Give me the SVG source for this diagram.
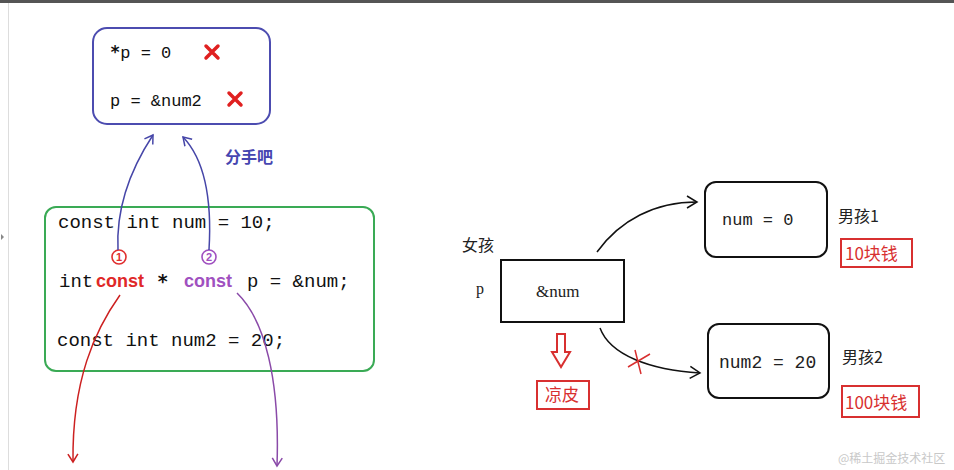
<svg xmlns="http://www.w3.org/2000/svg" width="954" height="470" viewBox="0 0 954 470">
<defs>
<style>
.code{font-family:"Liberation Mono","DejaVu Sans Mono",monospace;font-size:19px;fill:#111}
.small{font-family:"Liberation Mono",monospace;font-size:17px;fill:#111}
.star{font-family:"DejaVu Sans Mono",monospace;font-weight:bold}
.cjk{font-family:"Noto Sans CJK SC","Noto Sans",sans-serif;font-size:16px;fill:#222}
.kw{font-family:"Liberation Sans","Noto Sans",sans-serif;font-weight:bold;font-size:18px}
.redx{stroke:#e02020;stroke-width:3.5;stroke-linecap:round}
.box{fill:#fff;stroke:#111;stroke-width:2}
.tag{fill:#fff;stroke:#d83030;stroke-width:2}
.tagt{font-family:"Noto Sans CJK SC",sans-serif;font-size:17px;fill:#d83030}
</style>
<marker id="ab" markerWidth="12" markerHeight="12" refX="9" refY="6" orient="auto" markerUnits="userSpaceOnUse"><path d="M1,1 L9,6 L1,11" fill="none" stroke="#4646a8" stroke-width="1.5"/></marker>
<marker id="ak" markerWidth="14" markerHeight="14" refX="11" refY="7" orient="auto" markerUnits="userSpaceOnUse"><path d="M1,1 L11,7 L1,13" fill="none" stroke="#111" stroke-width="1.5"/></marker>
<marker id="ar" markerWidth="12" markerHeight="12" refX="9" refY="6" orient="auto" markerUnits="userSpaceOnUse"><path d="M1,1 L9,6 L1,11" fill="none" stroke="#cc2020" stroke-width="1.5"/></marker>
<marker id="ap" markerWidth="12" markerHeight="12" refX="9" refY="6" orient="auto" markerUnits="userSpaceOnUse"><path d="M1,1 L9,6 L1,11" fill="none" stroke="#8a4aa8" stroke-width="1.5"/></marker>
</defs>
<rect width="954" height="470" fill="#fff"/>
<rect x="0" y="0" width="954" height="3" fill="#555"/>
<line x1="8.5" y1="3" x2="8.5" y2="470" stroke="#ddd" stroke-width="1"/>
<path d="M1,234 L4,237 L1,240 Z" fill="#888"/>

<g id="forbidden">
<rect x="93" y="28" width="177" height="96" rx="14" fill="#fff" stroke="#4c4cb0" stroke-width="2"/>
<text class="small" x="110" y="58"><tspan class="star">*</tspan>p = 0</text>
<text class="small" x="110" y="106">p = &amp;num2</text>
<path class="redx" d="M206,46 L218,58 M218,46 L206,58"/>
<path class="redx" d="M229,93 L241,105 M241,93 L229,105"/>
</g>

<g id="breakup-label">
<text x="225" y="163" font-family="Noto Sans CJK SC,sans-serif" font-weight="bold" font-size="16" fill="#4646b0">分手吧</text>
</g>

<g id="code">
<rect x="45" y="207" width="329" height="164" rx="11" fill="none" stroke="#3aaa55" stroke-width="2"/>
<text class="code" x="58" y="228">const int num = 10;</text>
<text class="code" x="59" y="287">int</text>
<text class="kw" x="96" y="287" fill="#e02828">const</text>
<text class="code star" x="157" y="288" font-size="20">*</text>
<text class="kw" x="184" y="287" fill="#a050c0">const</text>
<text class="code" x="247" y="287">p = &amp;num;</text>
<text class="code" x="57" y="346">const int num2 = 20;</text>
<circle cx="119" cy="257" r="7" fill="none" stroke="#e03030" stroke-width="1.6"/>
<text x="119" y="261" text-anchor="middle" font-family="Liberation Sans,sans-serif" font-weight="bold" font-size="11" fill="#e03030">1</text>
<circle cx="209" cy="257" r="7" fill="none" stroke="#a050c0" stroke-width="1.6"/>
<text x="209" y="261" text-anchor="middle" font-family="Liberation Sans,sans-serif" font-weight="bold" font-size="11" fill="#a050c0">2</text>
</g>

<g id="girl">
<text class="cjk" x="462" y="251">女孩</text>
<text x="476" y="294" font-family="Liberation Serif,serif" font-size="16" fill="#222">p</text>
<rect class="box" x="501" y="260" width="123" height="62"/>
<text x="536" y="297" font-family="Liberation Serif,serif" font-size="17" fill="#222">&amp;num</text>
</g>

<g id="liangpi">
<path d="M557,334 L565,334 L565,352 L570,352 L561,367 L552,352 L557,352 Z" fill="#fff" stroke="#d83030" stroke-width="2"/>
<rect class="tag" x="537" y="381" width="52" height="28"/>
<text class="tagt" x="545" y="401" font-size="15">凉皮</text>
</g>

<g id="boy1">
<rect class="box" x="705" y="182" width="122" height="75" rx="11"/>
<text x="722" y="225" font-family="Liberation Mono,monospace" font-size="17" fill="#222">num = 0</text>
<text class="cjk" x="838" y="222">男孩1</text>
<rect class="tag" x="841" y="239" width="71" height="28"/>
<text class="tagt" x="845" y="260">10块钱</text>
</g>

<g id="boy2">
<rect class="box" x="708" y="324" width="121" height="74" rx="11"/>
<text x="719" y="368" font-family="Liberation Mono,monospace" font-size="18" fill="#222">num2 = 20</text>
<text class="cjk" x="842" y="363">男孩2</text>
<rect class="tag" x="842" y="386" width="77" height="31"/>
<text class="tagt" x="845" y="409">100块钱</text>
</g>

<g id="connectors" fill="none">
<path d="M118,250 C116,210 130,170 153,135" stroke="#4646a8" stroke-width="1.5" marker-end="url(#ab)"/>
<path d="M209,250 C212,200 205,160 183,137" stroke="#4646a8" stroke-width="1.5" marker-end="url(#ab)"/>
<path d="M120,295 C95,330 72,380 73,462" stroke="#cc2020" stroke-width="1.5" marker-end="url(#ar)"/>
<path d="M237,293 C265,320 280,380 277,466" stroke="#8a4aa8" stroke-width="1.5" marker-end="url(#ap)"/>
<path d="M597,252 C620,220 655,202 697,202" stroke="#111" stroke-width="1.5" marker-end="url(#ak)"/>
<path d="M600,328 C610,355 650,370 700,373" stroke="#111" stroke-width="1.5" marker-end="url(#ak)"/>
<path d="M628,367 L650,354 M635,350 L641,374" stroke="#d83030" stroke-width="1.5"/>
</g>

<text x="838" y="463" font-family="Noto Sans CJK SC,sans-serif" font-size="12" fill="#c8c8c8">@稀土掘金技术社区</text>
</svg>
